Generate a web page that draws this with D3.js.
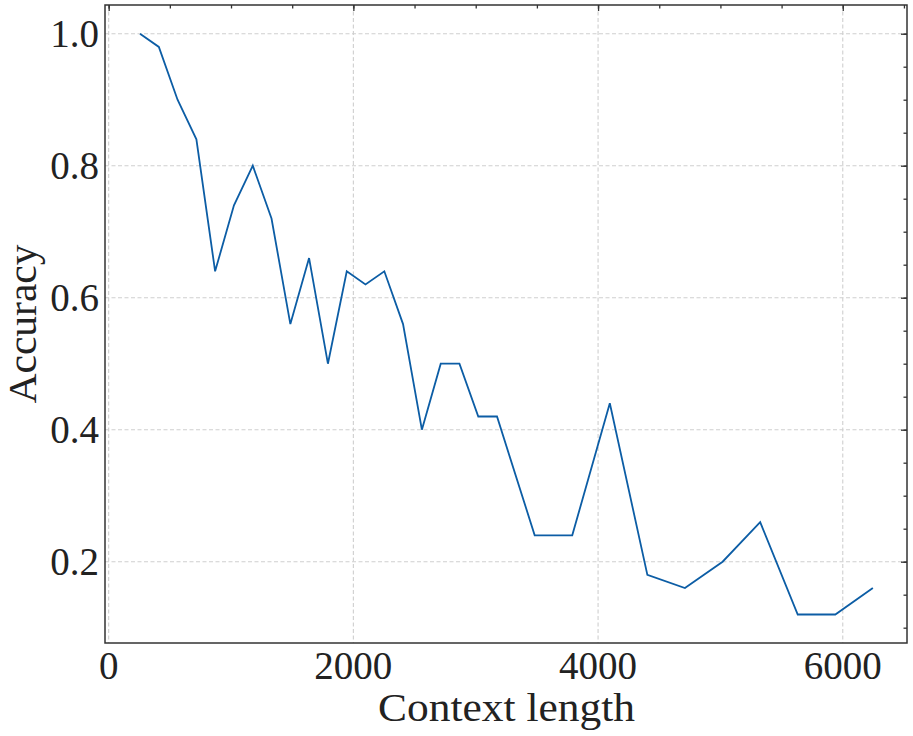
<!DOCTYPE html>
<html>
<head>
<meta charset="utf-8">
<script src="https://cdn.jsdelivr.net/npm/d3@7"></script>
<style>
  body { margin: 0; background: #fff; }
  text { font-family: "Liberation Serif", "DejaVu Serif", serif; fill: #222; }
</style>
</head>
<body>
<div id="chart"></div>
<script>
var width = 913, height = 736;
var left = 105, top_ = 5, right = 907, bottom = 643;

// context lengths and accuracy
let contextLength = [256, 410, 563, 717, 870, 1024, 1178, 1331, 1485, 1638,
  1792, 1946, 2099, 2253, 2406, 2560, 2714, 2867, 3021, 3174,
  3482, 3789, 4096, 4403, 4710, 5018, 5325, 5632, 5939, 6246];
let accuracy = [1.00, 0.98, 0.90, 0.84, 0.64, 0.74, 0.80, 0.72, 0.56, 0.66,
  0.50, 0.64, 0.62, 0.64, 0.56, 0.40, 0.50, 0.50, 0.42, 0.42,
  0.24, 0.24, 0.44, 0.18, 0.16, 0.20, 0.26, 0.12, 0.12, 0.16];

let xTicks = [0, 2000, 4000, 6000];
let yTicks = [0.2, 0.4, 0.6, 0.8, 1.0];
let xMinor = d3.range(0, 6501, 500);
let yMinor = d3.range(0.1, 1.001, 0.05);

let svg = d3.select('#chart')
  .append('svg')
  .attr('width', width)
  .attr('height', height);

let xScale = d3.scaleLinear().domain([-30, 6525]).range([left, right]);
let yScale = d3.scaleLinear().domain([0.0768, 1.0435]).range([bottom, top_]);

// dashed grid
svg.append('g')
  .selectAll('line')
  .data(xTicks)
  .enter()
  .append('line')
  .attr('x1', d => xScale(d)).attr('x2', d => xScale(d))
  .attr('y1', top_).attr('y2', bottom)
  .attr('stroke', '#cfcfcf').attr('stroke-width', 1.1)
  .attr('stroke-dasharray', '4,2.5');

svg.append('g')
  .selectAll('line')
  .data(yTicks)
  .enter()
  .append('line')
  .attr('x1', left).attr('x2', right)
  .attr('y1', d => yScale(d)).attr('y2', d => yScale(d))
  .attr('stroke', '#cfcfcf').attr('stroke-width', 1.1)
  .attr('stroke-dasharray', '4,2.5');

// top and right axes, ticks pointing in
let topAxis = d3.axisBottom(xScale).tickValues(xTicks).tickSize(6).tickFormat('');
let topMinor = d3.axisBottom(xScale).tickValues(xMinor).tickSize(3.5).tickFormat('');
let rightAxis = d3.axisLeft(yScale).tickValues(yTicks).tickSize(6).tickFormat('');
let rightMinor = d3.axisLeft(yScale).tickValues(yMinor).tickSize(3.5).tickFormat('');

svg.append('g').attr('transform', `translate(0,${top_})`).call(topMinor);
svg.append('g').attr('transform', `translate(0,${top_})`).call(topAxis);
svg.append('g').attr('transform', `translate(${right},0)`).call(rightMinor);
svg.append('g').attr('transform', `translate(${right},0)`).call(rightAxis);

svg.selectAll('.domain').remove();
svg.selectAll('.tick line').attr('stroke', '#333').attr('stroke-width', 1.3);

// labels on bottom and left
svg.append('g')
  .selectAll('text')
  .data(xTicks)
  .enter()
  .append('text')
  .attr('x', d => xScale(d))
  .attr('y', 679)
  .attr('text-anchor', 'middle')
  .attr('font-size', 39)
  .text(d => d);

svg.append('g')
  .selectAll('text')
  .data(yTicks)
  .enter()
  .append('text')
  .attr('x', 99)
  .attr('y', d => yScale(d) + 13.5)
  .attr('text-anchor', 'end')
  .attr('font-size', 39)
  .text(d => d.toFixed(1));

// the curve
let line = d3.line()
  .x((d, i) => xScale(contextLength[i]))
  .y(d => yScale(d));

svg.append('path')
  .datum(accuracy)
  .attr('d', line)
  .attr('fill', 'none')
  .attr('stroke', '#0C5DA5')
  .attr('stroke-width', 1.8)
  .attr('stroke-linejoin', 'miter');

// frame
svg.append('rect')
  .attr('x', left).attr('y', top_)
  .attr('width', right - left).attr('height', bottom - top_)
  .attr('fill', 'none')
  .attr('stroke', '#333')
  .attr('stroke-width', 1.5);

svg.append('text')
  .attr('x', (378 + 635) / 2)
  .attr('y', 721)
  .attr('text-anchor', 'middle')
  .attr('font-size', 40)
  .attr('textLength', 257)
  .attr('lengthAdjust', 'spacingAndGlyphs')
  .text('Context length');

svg.append('text')
  .attr('transform', `translate(36,${(top_ + bottom) / 2}) rotate(-90)`)
  .attr('text-anchor', 'middle')
  .attr('font-size', 40)
  .attr('textLength', 159)
  .attr('lengthAdjust', 'spacingAndGlyphs')
  .text('Accuracy');
</script>
</body>
</html>
